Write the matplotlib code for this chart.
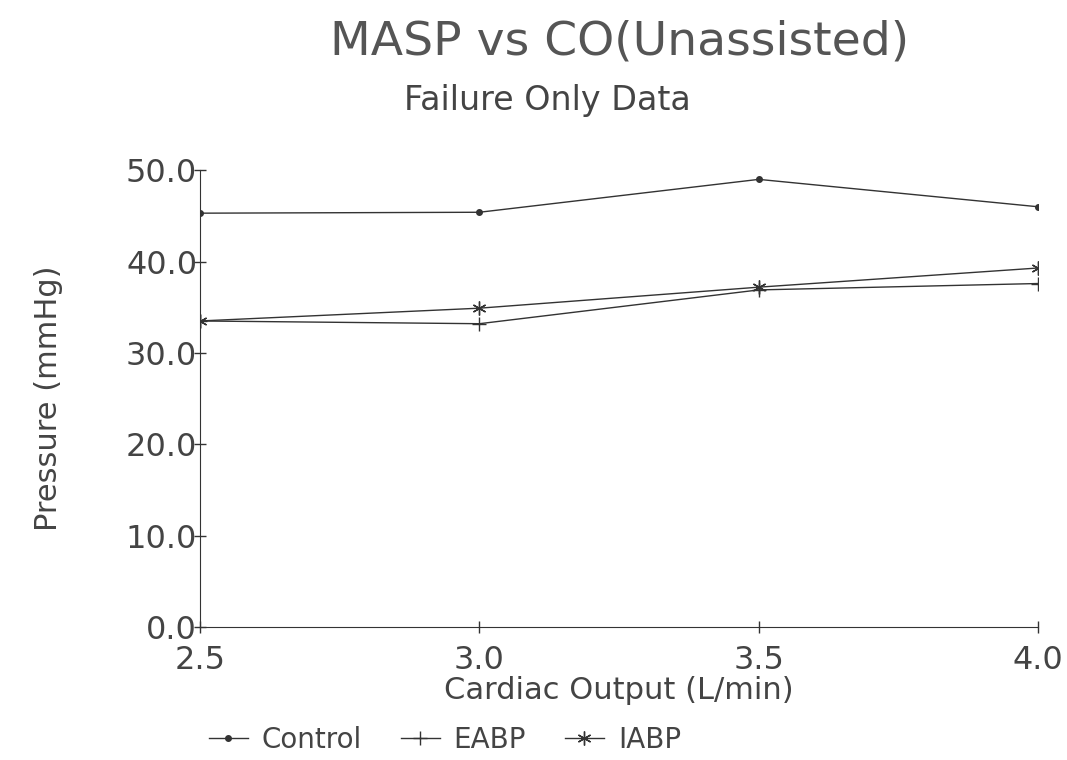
import matplotlib
matplotlib.use('Agg')
import matplotlib.pyplot as plt
import numpy as np

# data
co = [2.5, 3.0, 3.5, 4.0]
control = [45.3, 45.4, 49.0, 46.0]
eabp = [33.5, 33.2, 36.9, 37.6]
iabp = [33.5, 34.9, 37.2, 39.3]

xticks = [2.5, 3.0, 3.5, 4.0]
yticks = [0, 10, 20, 30, 40, 50]

plt.rcParams['font.family'] = ['DejaVu Sans']
col = '#333333'
tcol = '#444444'

fig = plt.figure(figsize=(10.67, 7.6), dpi=100)
ax = fig.add_axes([0.1874, 0.175, 0.7856, 0.601])

ax.plot(co, control, color=col, lw=1.0, marker='o', ms=4, label='Control')
ax.plot(co, eabp, color=col, lw=1.0, marker='+', ms=10, mew=1.0, label='EABP')
ax.plot(co, iabp, color=col, lw=1.0, marker=(6, 2, 0), ms=10, mew=1.0, label='IABP')

ax.set_xlim(2.5, 4.0)
ax.set_ylim(0, 50)
ax.set_xticks(xticks)
ax.set_xticklabels(['%.1f' % v for v in xticks])
ax.set_yticks(yticks)
ax.set_yticklabels(['%.1f' % v for v in yticks])
ax.tick_params(axis='both', direction='inout', length=8, width=1, colors=col,
               labelsize=23, labelcolor=tcol)
ax.tick_params(axis='y', pad=-2)
ax.tick_params(axis='x', pad=9)
for s in ['top', 'right']:
    ax.spines[s].set_visible(False)
for s in ['left', 'bottom']:
    ax.spines[s].set_color(col)

ax.set_xlabel('Cardiac Output (L/min)', fontsize=22, color=tcol, labelpad=0)
ax.set_ylabel('Pressure (mmHg)', fontsize=22, color=tcol, labelpad=45)

fig.text(0.581, 0.945, 'MASP vs CO(Unassisted)', ha='center', va='center',
         fontsize=34, color='#555555')
fig.text(0.513, 0.868, 'Failure Only Data', ha='center', va='center',
         fontsize=24, color=tcol)

fig.legend(loc='lower center', bbox_to_anchor=(0.417, -0.025), ncol=3, frameon=False,
           fontsize=20, handlelength=1.4, handletextpad=0.5, columnspacing=1.4,
           labelcolor=tcol)

fig.savefig('out.png', dpi=100)
